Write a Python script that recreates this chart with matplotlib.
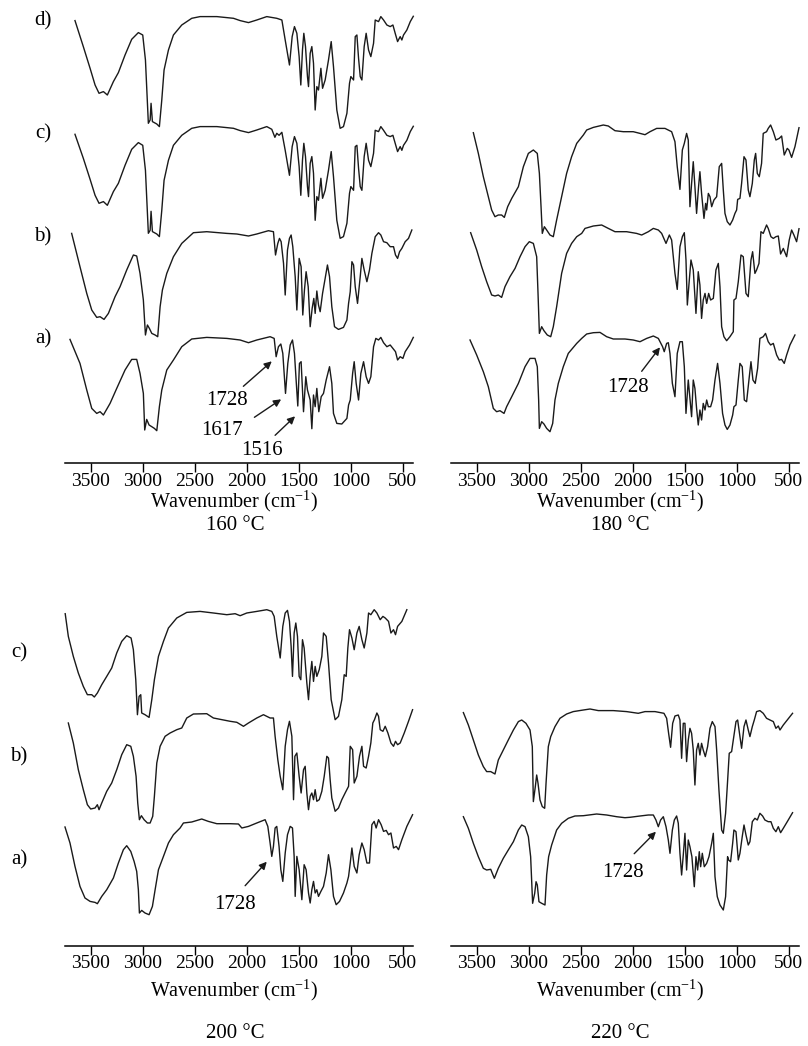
import matplotlib
matplotlib.use("Agg")
import matplotlib.pyplot as plt
import numpy as np

plt.rcParams['font.family'] = ['Liberation Serif', 'DejaVu Serif']
plt.rcParams['mathtext.fontset'] = 'custom'
plt.rcParams['mathtext.rm'] = 'Liberation Serif'

# FTIR spectra: (wavenumber cm-1, relative transmittance)
t160_d = [(3651, 107.7), (3571, 81.7), (3506, 60), (3458, 43.3), (3420, 35), (3378, 36.7), (3340, 33.3),
          (3282, 46.7), (3234, 55.7), (3170, 73.3), (3106, 89), (3042, 95.7), (3000, 93.3), (2974, 68.3),
          (2946, 5), (2929, 8.3), (2920, 25), (2907, 6.7), (2865, 4.3), (2840, 1.7), (2817, 28.3),
          (2795, 58.3), (2753, 78.3), (2705, 93.3), (2625, 103.3), (2529, 110), (2449, 111.7), (2288, 111.7),
          (2128, 110), (2064, 107.7), (1984, 105.7), (1904, 108.3), (1808, 111.7), (1712, 110), (1663, 108.3),
          (1631, 88.3), (1590, 63.3), (1564, 91.7), (1542, 101.7), (1519, 95), (1497, 71.7), (1481, 43.3),
          (1465, 78.3), (1452, 95), (1436, 81.7), (1417, 51.7), (1407, 41.7), (1391, 75), (1375, 81.7),
          (1359, 65), (1343, 18.3), (1327, 41.7), (1311, 38.3), (1288, 60), (1272, 40), (1247, 48.3),
          (1215, 68.3), (1189, 86.7), (1167, 61.7), (1135, 18.3), (1103, 0), (1071, 1.7), (1038, 15),
          (1013, 45), (1000, 51.7), (974, 48.3), (958, 91.7), (942, 93.3), (926, 70), (910, 51.7), (894, 48.3),
          (872, 81.7), (853, 95), (830, 78.3), (808, 71.7), (782, 85), (766, 108.3), (734, 106.7), (712, 111.7),
          (686, 108.3), (654, 103.3), (622, 101.7), (596, 103.3), (574, 95), (551, 86.7), (526, 91.7),
          (510, 88.3), (494, 93.3), (462, 98.3), (429, 106.7), (400, 112)]

t160_c = [(3651, 104), (3571, 80), (3506, 59), (3458, 43), (3420, 35), (3378, 36.7), (3340, 33),
          (3282, 46.7), (3234, 55), (3170, 73), (3106, 89), (3042, 95.7), (3000, 93), (2974, 68),
          (2946, 5), (2929, 8), (2920, 27), (2907, 6.7), (2865, 4.3), (2840, 1.7), (2817, 28),
          (2795, 58), (2753, 78), (2705, 93), (2625, 103), (2529, 110), (2449, 111.7), (2288, 111.7),
          (2128, 110), (2064, 107.7), (1984, 105.7), (1904, 108.3), (1808, 111.7), (1760, 109), (1730, 101),
          (1712, 105), (1690, 103), (1663, 106), (1631, 88), (1590, 63), (1564, 91.7), (1542, 101.7),
          (1519, 95), (1497, 71.7), (1481, 43), (1465, 78), (1452, 95), (1436, 81.7), (1417, 51.7),
          (1407, 41.7), (1391, 75), (1375, 81.7), (1359, 65), (1343, 18), (1327, 41.7), (1311, 38),
          (1288, 60), (1272, 40), (1247, 48), (1215, 68), (1189, 86.7), (1167, 61.7), (1135, 18),
          (1103, 0), (1071, 1.7), (1038, 15), (1013, 45), (1000, 51.7), (974, 48), (958, 91.7), (942, 93),
          (926, 70), (910, 51.7), (894, 48), (872, 81.7), (853, 95), (830, 78), (808, 71.7), (782, 85),
          (766, 108), (734, 106.7), (712, 111.7), (686, 108), (654, 103), (622, 101.7), (596, 103),
          (574, 95), (551, 86.7), (526, 91.7), (510, 88), (494, 93), (462, 98), (429, 106.7), (400, 112)]

t160_b = [(3683, 103.3), (3603, 70), (3538, 43.3), (3490, 26.7), (3442, 19.3), (3410, 20), (3372, 17.3),
          (3330, 23.3), (3266, 40), (3218, 50), (3154, 66.7), (3090, 81.7), (3058, 80.7), (3026, 63.3),
          (2994, 36.7), (2974, 1.7), (2955, 11.7), (2936, 8.3), (2913, 3.3), (2881, 1.7), (2856, 0),
          (2833, 30), (2811, 46.7), (2769, 63.3), (2705, 80), (2625, 93.3), (2513, 104), (2385, 105),
          (2192, 103.3), (2096, 102.7), (1984, 100.7), (1904, 102.7), (1792, 106), (1744, 105), (1724, 81.7),
          (1702, 93.3), (1686, 98.3), (1670, 95), (1647, 73.3), (1631, 41.7), (1609, 86.7), (1590, 98.3),
          (1574, 101.7), (1558, 90), (1535, 60), (1519, 26.7), (1497, 78.3), (1478, 70), (1462, 21.7),
          (1446, 46.7), (1430, 65), (1410, 50), (1391, 10), (1372, 28.3), (1356, 38.3), (1343, 23.3),
          (1327, 45.7), (1311, 31.7), (1295, 25), (1272, 43.3), (1247, 58.3), (1225, 71.7), (1205, 60),
          (1183, 30), (1157, 10), (1119, 7.3), (1071, 9.3), (1038, 16.7), (1022, 33.3), (1006, 45),
          (990, 75), (974, 71.7), (958, 50), (936, 33.3), (910, 60), (894, 78.3), (872, 66.7), (846, 55),
          (821, 66.7), (798, 83.3), (766, 100), (734, 104), (712, 101.7), (686, 95), (654, 94), (622, 90),
          (590, 90), (571, 81.7), (551, 78.3), (532, 85), (510, 88.3), (478, 95), (446, 98.3), (414, 106.7)]

t160_a = [(3699, 91.3), (3603, 67.3), (3538, 40.7), (3490, 22.3), (3442, 17.3), (3410, 19), (3378, 15.7),
          (3314, 27.3), (3250, 42.3), (3170, 60.7), (3106, 71.3), (3058, 71.3), (3026, 57.3), (2994, 37.3),
          (2981, 0.7), (2962, 11.3), (2939, 5.7), (2913, 4), (2888, 2.3), (2865, 0), (2840, 24),
          (2817, 40.7), (2769, 60.7), (2705, 70.7), (2625, 84), (2529, 91.7), (2385, 93.3), (2192, 92.3),
          (2064, 90.7), (1984, 88), (1904, 90.7), (1776, 94), (1737, 92.3), (1718, 74), (1696, 84),
          (1673, 86.7), (1654, 77.3), (1628, 37.3), (1606, 67.3), (1583, 85.7), (1561, 90.7), (1542, 77.3),
          (1526, 50.7), (1510, 24.7), (1494, 67.3), (1478, 69), (1455, 19), (1433, 54), (1417, 40.7),
          (1391, 30.7), (1375, 2), (1359, 35.7), (1343, 24), (1327, 42.3), (1308, 19), (1285, 34),
          (1263, 37.3), (1237, 50.7), (1205, 64), (1183, 47.3), (1167, 17.3), (1135, 7.3), (1087, 6.7),
          (1038, 12.3), (1022, 25.7), (1006, 30.7), (983, 57.3), (968, 69), (949, 47.3), (926, 30.7),
          (904, 57.3), (878, 69), (853, 54), (830, 47.3), (808, 54), (782, 84), (760, 92.3), (734, 90.7),
          (712, 93.3), (686, 88), (654, 84), (622, 85.7), (596, 82.3), (571, 79), (551, 70.7), (526, 74),
          (500, 72.3), (478, 79), (436, 85.7), (400, 93.3)]

t180_c = [(3532, 104), (3484, 83.3), (3436, 60), (3388, 40), (3356, 26.7), (3324, 20), (3292, 21.7),
          (3260, 21.7), (3234, 19.3), (3202, 30), (3163, 38.3), (3099, 50), (3051, 70), (3003, 83.3),
          (2955, 86.7), (2917, 83.3), (2897, 63.3), (2881, 30), (2869, 3.3), (2849, 10), (2827, 6.7),
          (2795, 1.7), (2763, 0), (2731, 16.7), (2683, 40), (2635, 63.3), (2587, 80), (2538, 93.3),
          (2474, 101.7), (2442, 106.7), (2378, 109.3), (2282, 111.7), (2234, 110.7), (2170, 106), (2090, 105),
          (1994, 105), (1929, 103.3), (1881, 102), (1833, 105), (1769, 108.3), (1689, 108.3), (1625, 105),
          (1593, 95), (1571, 70), (1545, 47.3), (1522, 86.7), (1503, 93.3), (1481, 103.3), (1465, 96.7),
          (1449, 30), (1433, 53.3), (1417, 75), (1401, 50), (1385, 23.3), (1366, 50), (1353, 65),
          (1337, 43.3), (1314, 18.3), (1298, 33.3), (1288, 26.7), (1272, 43.3), (1256, 40), (1240, 30),
          (1218, 36.7), (1192, 40), (1167, 70), (1144, 73.3), (1128, 46.7), (1112, 23.3), (1090, 15),
          (1064, 11.7), (1038, 16.7), (1016, 23.3), (1000, 26.7), (990, 37.3), (968, 38.3), (952, 53.3),
          (929, 80), (910, 76.7), (888, 46.7), (872, 40), (849, 53.3), (830, 76.7), (817, 83.3), (801, 63.3),
          (782, 60), (760, 73.3), (744, 103.3), (712, 105), (696, 108.3), (673, 111.7), (647, 105),
          (622, 96.7), (590, 98.3), (567, 100.7), (542, 81.7), (513, 88.3), (497, 86.7), (471, 79.3),
          (439, 90), (400, 109)]

t180_b = [(3558, 108), (3500, 90.7), (3452, 74), (3404, 59), (3356, 45.7), (3324, 44.7), (3292, 45.7),
          (3260, 43.3), (3228, 54), (3180, 64), (3131, 72.3), (3083, 84), (3035, 94), (2994, 99),
          (2955, 97.3), (2923, 84), (2910, 47.3), (2897, 7.3), (2875, 14), (2853, 10), (2821, 5.7),
          (2788, 4), (2763, 14), (2731, 34), (2683, 67.3), (2635, 87.3), (2587, 97.3), (2538, 104),
          (2490, 107.3), (2458, 112.3), (2378, 114.7), (2298, 115.7), (2234, 112.3), (2170, 109), (2058, 109),
          (1962, 107.3), (1913, 105.7), (1849, 109), (1801, 112.3), (1753, 110.7), (1721, 107.3), (1679, 97.3),
          (1647, 105.7), (1625, 100.7), (1593, 67.3), (1571, 51.3), (1545, 94), (1522, 104), (1503, 108),
          (1487, 80.7), (1474, 35.7), (1455, 60.7), (1439, 80.7), (1417, 70.7), (1391, 27.3), (1369, 69),
          (1353, 55.7), (1337, 22.3), (1321, 40.7), (1304, 47.3), (1288, 37.3), (1269, 47.3), (1250, 40.7),
          (1224, 42.3), (1199, 70.7), (1176, 77.3), (1160, 54), (1144, 14), (1122, 4), (1096, 0), (1064, 4),
          (1032, 9), (1026, 40.7), (1006, 42.3), (984, 59), (958, 85.7), (936, 84), (910, 47.3), (888, 44),
          (862, 80.7), (846, 89), (824, 67.3), (808, 70.7), (785, 77.3), (766, 109), (744, 107.3),
          (712, 115.7), (696, 112.3), (670, 104), (647, 102.3), (622, 104), (599, 104.7), (577, 86.7),
          (551, 92.3), (519, 84), (494, 100.7), (471, 110.7), (449, 105.7), (423, 99), (400, 112)]

t180_a = [(3564, 91.7), (3500, 76.7), (3436, 60), (3388, 45), (3340, 23.3), (3308, 20), (3276, 21),
          (3237, 18.3), (3212, 25), (3163, 35), (3099, 48.3), (3035, 65), (2987, 73.3), (2939, 73.3),
          (2917, 65), (2904, 31.7), (2897, 3.3), (2875, 10), (2853, 7.7), (2827, 3.3), (2795, 0),
          (2769, 8.3), (2747, 31.7), (2715, 48.3), (2667, 65), (2619, 78.3), (2538, 88.3), (2490, 93.3),
          (2442, 97.7), (2378, 99), (2314, 99.3), (2250, 95), (2186, 92.7), (2074, 92.7), (1994, 91.7),
          (1929, 90), (1865, 93.3), (1801, 95.7), (1753, 93.3), (1712, 85), (1696, 80), (1673, 88.3),
          (1657, 89), (1641, 78.3), (1618, 48.3), (1593, 35), (1571, 78.3), (1545, 90), (1522, 90),
          (1503, 65), (1487, 18.3), (1465, 51.7), (1449, 33.3), (1433, 15), (1417, 51.7), (1401, 43.3),
          (1385, 23.3), (1369, 6.7), (1353, 21.7), (1337, 11.7), (1321, 28.3), (1304, 21.7), (1288, 31.7),
          (1272, 25), (1250, 25), (1231, 31.7), (1208, 51.7), (1183, 68.3), (1160, 48.3), (1135, 18.3),
          (1112, 6.7), (1090, 2.3), (1064, 6.7), (1038, 16.7), (1026, 25), (1006, 26.7), (984, 51.7),
          (968, 68.3), (946, 65), (926, 31.7), (904, 30), (878, 55), (862, 70), (843, 51.7), (821, 48.3),
          (798, 63.3), (776, 93.3), (744, 95), (722, 98.3), (696, 90), (673, 86.7), (647, 88.3), (615, 76.7),
          (590, 71.7), (567, 72.3), (542, 68.3), (519, 76.7), (487, 86.7), (439, 96.7)]

t200_c = [(3745, 106), (3715, 83.3), (3667, 63.3), (3619, 46.7), (3571, 33.3), (3532, 25), (3490, 25),
          (3465, 22.7), (3436, 26.7), (3394, 35), (3346, 43.3), (3298, 51.7), (3250, 66.7), (3202, 78.3),
          (3154, 84), (3112, 81.7), (3090, 70), (3067, 40), (3051, 5), (3035, 23.3), (3019, 25), (3010, 6.7),
          (2978, 5), (2939, 2.3), (2913, 20), (2888, 40), (2849, 63.3), (2801, 78.3), (2753, 91.7),
          (2673, 101.7), (2577, 107.3), (2449, 108.3), (2321, 106.7), (2192, 105), (2112, 106), (2064, 104),
          (2000, 106.7), (1904, 108.3), (1808, 110), (1760, 108.3), (1737, 103.3), (1712, 83.3), (1679, 61.7),
          (1654, 93.3), (1631, 106.7), (1609, 109.3), (1590, 98.3), (1574, 73.3), (1561, 43.3), (1545, 86.7),
          (1529, 96.7), (1513, 83.3), (1497, 43.3), (1481, 40), (1465, 80), (1449, 71.7), (1423, 36.7),
          (1407, 20), (1391, 43.3), (1375, 58.3), (1359, 38.3), (1343, 53.3), (1327, 43.3), (1304, 50),
          (1279, 63.3), (1263, 86.7), (1237, 83.3), (1215, 56.7), (1189, 20), (1151, 0), (1119, 3.3),
          (1087, 20), (1064, 45), (1045, 43.3), (1029, 71.7), (1013, 90), (990, 81.7), (968, 70), (942, 86.7),
          (920, 93.3), (894, 80), (872, 71.7), (846, 86.7), (830, 106.7), (808, 105), (776, 110), (750, 106.7),
          (718, 100), (692, 103.3), (670, 101.7), (638, 98.3), (615, 86.7), (590, 90), (571, 85), (551, 93.3),
          (510, 98.3), (462, 110)]

t200_b = [(3715, 100), (3667, 80), (3619, 53.3), (3571, 33.3), (3532, 18.3), (3500, 14), (3458, 15),
          (3436, 18.3), (3420, 13.3), (3394, 20), (3346, 31.7), (3298, 40), (3250, 53.3), (3202, 68.3),
          (3154, 78.3), (3115, 76.7), (3090, 66.7), (3064, 46.7), (3048, 20), (3032, 3.3), (3013, 7.3),
          (2987, 3.3), (2955, 0), (2929, 0), (2904, 6.7), (2888, 26.7), (2865, 60), (2833, 76.7), (2785, 86.7),
          (2737, 90), (2673, 93.3), (2625, 95), (2609, 98.3), (2577, 105), (2513, 109), (2385, 109.3),
          (2321, 105), (2160, 101.7), (2096, 100.7), (2032, 96.7), (1984, 100), (1904, 105), (1840, 108.3),
          (1776, 105), (1744, 105), (1728, 86.7), (1702, 63.3), (1679, 46.7), (1654, 33.3), (1631, 76.7),
          (1609, 93.3), (1590, 101.7), (1567, 86.7), (1551, 23.3), (1538, 66.7), (1519, 70), (1497, 46.7),
          (1478, 30), (1455, 53.3), (1439, 56.7), (1423, 30), (1407, 13.3), (1391, 26.7), (1375, 30),
          (1359, 23.3), (1343, 33.3), (1327, 21.7), (1304, 23.3), (1279, 31.7), (1256, 46.7), (1231, 66.7),
          (1215, 65), (1199, 43.3), (1183, 25), (1151, 11.7), (1119, 15), (1087, 23.3), (1055, 30),
          (1022, 36.7), (1006, 76.7), (983, 73.3), (968, 40), (942, 46.7), (917, 66.7), (894, 76.7),
          (878, 56.7), (853, 55), (830, 66.7), (808, 80), (789, 100), (773, 103.3), (750, 110), (734, 106.7),
          (718, 93.3), (692, 91.7), (670, 96.7), (644, 90), (615, 80), (590, 76.7), (571, 81.7), (551, 78.3),
          (526, 80), (487, 90), (446, 101.7), (407, 113.3)]

t200_a = [(3747, 87.7), (3699, 71.7), (3651, 48.3), (3603, 28.3), (3555, 16.7), (3506, 13.3), (3458, 12.3),
          (3436, 11), (3394, 18.3), (3346, 25), (3282, 36.7), (3234, 51.7), (3186, 65), (3154, 69),
          (3115, 63.3), (3083, 53.3), (3058, 43.3), (3042, 25), (3032, 1.7), (3010, 4.3), (2978, 1.7),
          (2939, 0), (2907, 8.3), (2881, 25), (2849, 45), (2801, 58.3), (2753, 71.7), (2705, 80), (2641, 86.7),
          (2609, 91.7), (2529, 92.7), (2433, 95.7), (2369, 93.3), (2288, 91), (2160, 91), (2080, 90.7),
          (2048, 86.7), (1984, 88.3), (1904, 91.7), (1824, 95), (1798, 88.3), (1776, 71.7), (1760, 58.3),
          (1744, 68.3), (1728, 86.7), (1712, 88.3), (1690, 68.3), (1673, 45), (1654, 33.3), (1631, 61.7),
          (1609, 80), (1583, 88.3), (1561, 86.7), (1545, 58.3), (1535, 18.3), (1519, 58.3), (1497, 45),
          (1471, 15), (1449, 50), (1430, 45), (1407, 21.7), (1391, 11.7), (1375, 25), (1359, 33.3),
          (1343, 21.7), (1327, 25), (1311, 18.3), (1288, 23.3), (1263, 28.3), (1237, 41.7), (1215, 60),
          (1192, 45), (1167, 18.3), (1141, 10), (1109, 13.3), (1071, 21.7), (1038, 31.7), (1022, 38.3),
          (1006, 51.7), (990, 66.7), (968, 48.3), (942, 41.7), (920, 60), (894, 71.7), (872, 65), (846, 51.7),
          (821, 51.7), (798, 90), (776, 93.3), (757, 86.7), (734, 95), (709, 90), (686, 83.3), (660, 84.3),
          (638, 80), (615, 81.7), (590, 66.7), (564, 68.3), (542, 65), (510, 75), (462, 88.3), (407, 100)]

t220_b = [(3628, 120.7), (3580, 108.3), (3532, 93.3), (3484, 78.3), (3436, 66.7), (3404, 61.7), (3365, 61.7),
          (3324, 59.3), (3292, 73.3), (3244, 83.3), (3196, 93.3), (3147, 103.3), (3099, 111.7), (3067, 113.3),
          (3026, 110), (2987, 103.3), (2965, 86.7), (2955, 31.7), (2936, 46.7), (2923, 58.3), (2910, 50),
          (2891, 33.3), (2869, 26.7), (2846, 25), (2833, 50), (2811, 86.7), (2788, 96.7), (2747, 106.7),
          (2699, 115), (2635, 119.3), (2571, 121.7), (2474, 123.3), (2410, 124.3), (2330, 122.7), (2186, 122.7),
          (2058, 121.7), (1946, 120), (1881, 121.7), (1785, 121.7), (1699, 120), (1673, 115), (1654, 100),
          (1635, 86), (1615, 110), (1593, 117.3), (1561, 118.3), (1545, 113.3), (1529, 75), (1513, 110),
          (1497, 110), (1481, 71.7), (1465, 93.3), (1449, 105), (1433, 100), (1417, 83.3), (1401, 48.3),
          (1385, 83.3), (1369, 90), (1353, 78.3), (1337, 90), (1321, 83.3), (1301, 76.7), (1279, 86.7),
          (1256, 105), (1234, 111.7), (1208, 106.7), (1192, 83.3), (1170, 43.3), (1144, 3.3), (1128, 0),
          (1106, 20), (1090, 46.7), (1071, 80), (1048, 81.7), (1032, 93.3), (1006, 111.7), (990, 113.3),
          (968, 96.7), (952, 85), (929, 106.7), (910, 113.3), (888, 103.3), (872, 96.7), (849, 106.7),
          (830, 113.3), (808, 121.7), (776, 122.7), (744, 120), (712, 115), (679, 113.3), (647, 111.7),
          (622, 105), (599, 107.3), (583, 103.3), (551, 108.3), (513, 113.3), (462, 120)]

t220_a = [(3628, 93.3), (3580, 81.7), (3532, 66.7), (3484, 53.3), (3436, 41.7), (3404, 40), (3365, 40.7),
          (3330, 31.7), (3292, 41.7), (3244, 51.7), (3196, 60), (3147, 68.3), (3099, 80), (3067, 85),
          (3035, 83.3), (3003, 73.3), (2981, 53.3), (2962, 6.7), (2942, 16.7), (2929, 28.3), (2917, 25),
          (2901, 8.3), (2875, 6.7), (2843, 5), (2827, 35), (2808, 53.3), (2779, 65), (2731, 80), (2683, 86.7),
          (2619, 91.7), (2555, 94), (2474, 94.3), (2346, 96), (2250, 95), (2154, 93.3), (2074, 92.3),
          (2026, 92.7), (1929, 94), (1849, 95), (1801, 95), (1776, 90), (1753, 83.3), (1731, 90), (1705, 93.3),
          (1679, 83.3), (1657, 70), (1641, 56.7), (1618, 80), (1599, 90), (1577, 94), (1561, 86.7),
          (1545, 56.7), (1529, 35), (1513, 55), (1497, 76.7), (1481, 40), (1465, 70), (1449, 63.3),
          (1430, 53.3), (1407, 23.3), (1391, 53.3), (1375, 40), (1359, 58.3), (1346, 43.3), (1330, 56.7),
          (1311, 43.3), (1288, 46.7), (1266, 53.3), (1240, 66.7), (1224, 76.7), (1208, 33.3), (1186, 13.3),
          (1160, 5), (1128, 0), (1106, 13.3), (1087, 53.3), (1077, 50), (1058, 48.3), (1038, 66.7), (1026, 80),
          (1006, 78.3), (984, 50), (968, 56.7), (946, 73.3), (929, 85), (910, 75), (888, 65), (872, 68.3),
          (849, 88.3), (824, 91.7), (801, 90), (776, 96.7), (750, 94), (728, 90), (696, 88.3), (670, 88.3),
          (647, 81.7), (622, 78.3), (599, 83.3), (577, 77.3), (551, 81.7), (513, 88.3), (462, 97.3)]

ticks = [3500, 3000, 2500, 2000, 1500, 1000, 500]
temps = ['160 °C', '180 °C', '200 °C', '220 °C']

W, H = 808, 1046
fig = plt.figure(figsize=(W / 100, H / 100), dpi=100)


def make_ax(x0, x1, ytop, yaxis):
    ax = fig.add_axes([x0 / W, 1 - yaxis / H, (x1 - x0) / W, (yaxis - ytop) / H])
    ax.set_xlim(3747, 400)
    ax.set_ylim(0, yaxis - ytop)
    for s in ['left', 'right', 'top']:
        ax.spines[s].set_visible(False)
    ax.spines['bottom'].set_linewidth(1.1)
    ax.set_yticks([])
    ax.set_xticks(ticks)
    ax.set_xticklabels([str(t) for t in ticks])
    ax.tick_params(axis='x', direction='out', length=6.5, width=1.0, pad=0.5, labelsize=14)
    ax.patch.set_alpha(0)
    return ax


def draw(ax, spec, offset):
    arr = np.array(spec)
    ax.plot(arr[:, 0], arr[:, 1] + offset, color='#1a1a1a', lw=1.0, clip_on=False)


def arrow(ax, label, text_xy, tail, head):
    ax.text(text_xy[0], text_xy[1], label, ha='center', va='center', fontsize=15)
    ax.annotate('', xy=head, xytext=tail,
                arrowprops=dict(arrowstyle='-|>', color='#1a1a1a', lw=1.0,
                                mutation_scale=11, shrinkA=0, shrinkB=0))


def ftext(x, y, s, **kw):
    fig.text(x / W, 1 - y / H, s, ha='center', va='center', **kw)


xlabel = 'Wavenumber (cm$^{\\mathregular{-1}}$)'

# 160 °C
ax1 = make_ax(65, 413.3, 5, 463.3)
for spec, off in [(t160_a, 32.6), (t160_b, 126.6), (t160_c, 225), (t160_d, 335)]:
    draw(ax1, spec, off)
arrow(ax1, '1728', (2192, 63), (2033, 77), (1760, 102))
arrow(ax1, '1617', (2240, 33), (1927, 46), (1670, 64))
arrow(ax1, '1516', (1856, 13), (1728, 28), (1536, 47))
for lab, y in [('d)', 21), ('c)', 134), ('b)', 237), ('a)', 339)]:
    ftext(43, y, lab, fontsize=15)
ftext(234, 501, xlabel, fontsize=14.5)
ftext(235, 526, temps[0], fontsize=15)

# 180 °C
ax2 = make_ax(451, 799, 5, 463.3)
for spec, off in [(t180_a, 31.6), (t180_b, 122.6), (t180_c, 226.6)]:
    draw(ax2, spec, off)
arrow(ax2, '1728', (2045, 76), (1913, 92), (1737, 116))
ftext(620, 501, xlabel, fontsize=14.5)
ftext(620, 526, temps[1], fontsize=15)

# 200 °C
ax3 = make_ax(65, 413.3, 590, 945.7)
for spec, off in [(t200_a, 31), (t200_b, 122.7), (t200_c, 226)]:
    draw(ax3, spec, off)
arrow(ax3, '1728', (2112, 41), (2016, 60), (1808, 84))
for lab, y in [('c)', 653), ('b)', 757), ('a)', 860)]:
    ftext(19, y, lab, fontsize=15)
ftext(234, 990, xlabel, fontsize=14.5)
ftext(235, 1033, temps[2], fontsize=15)

# 220 °C
ax4 = make_ax(451, 799, 590, 945.7)
for spec, off in [(t220_a, 35.7), (t220_b, 112.4)]:
    draw(ax4, spec, off)
arrow(ax4, '1728', (2096, 73), (1985, 92), (1776, 114))
ftext(620, 990, xlabel, fontsize=14.5)
ftext(620, 1033, temps[3], fontsize=15)

fig.savefig('out.png', dpi=100)
